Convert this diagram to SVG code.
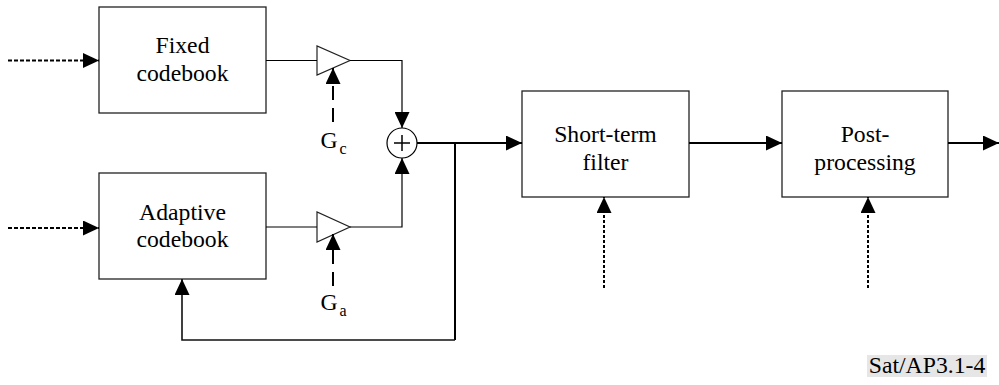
<svg xmlns="http://www.w3.org/2000/svg" width="999" height="385" viewBox="0 0 999 385">
<style>
.box{fill:#fff;stroke:#222;stroke-width:1.3}
.t{font-family:"Liberation Serif","Times New Roman",serif;font-size:23.7px;fill:#000;text-anchor:middle}
.sub{font-size:16px}
.thin{fill:none;stroke:#000;stroke-width:1.2}
.thick{fill:none;stroke:#000;stroke-width:2}
.dash{fill:none;stroke:#000;stroke-width:2;stroke-dasharray:4 2}
.dot{fill:none;stroke:#000;stroke-width:2;stroke-dasharray:3 2}
.gain{fill:none;stroke:#000;stroke-width:2;stroke-dasharray:14 8}
</style>
<defs>
<marker id="ah" markerUnits="userSpaceOnUse" markerWidth="17" markerHeight="15" refX="16" refY="7.5" orient="auto">
<path d="M0,0 L16,7.5 L0,15 Z" fill="#000"/>
</marker>
</defs>
<g id="fixed"><rect class="box" x="99" y="7" width="167" height="106"/>
<text class="t" x="182.5" y="53">Fixed</text><text class="t" x="182.5" y="81">codebook</text></g>
<g id="adaptive"><rect class="box" x="99" y="173" width="167" height="106"/>
<text class="t" x="182.5" y="220">Adaptive</text><text class="t" x="182.5" y="247">codebook</text></g>
<g id="ampc"><polygon points="317,46 317,75 350,60.5" fill="#fff" stroke="#222" stroke-width="1.2"/></g>
<g id="ampa"><polygon points="317,212 317,242 350,227" fill="#fff" stroke="#222" stroke-width="1.2"/></g>
<g id="gc"><text class="t" x="329" y="148">G</text><text class="t sub" x="343" y="154">c</text></g>
<g id="ga"><text class="t" x="329" y="310">G</text><text class="t sub" x="343" y="316">a</text></g>
<g id="sum"><circle cx="402" cy="143" r="15" fill="#fff" stroke="#000" stroke-width="1.2"/>
<path d="M394,143 H410 M402,135 V151" stroke="#000" stroke-width="1.5"/></g>
<g id="stf"><rect class="box" x="522" y="91" width="167" height="106"/>
<text class="t" x="605.5" y="142">Short-term</text><text class="t" x="605.5" y="170">filter</text></g>
<g id="post"><rect class="box" x="782" y="91" width="166" height="106"/>
<text class="t" x="865" y="142">Post-</text><text class="t" x="865" y="170">processing</text></g>
<g id="ref"><rect x="867" y="355" width="120" height="22" fill="#e6e6e6"/>
<text class="t" x="927" y="373">Sat/AP3.1-4</text></g>
<g id="connectors">
<path class="dash" d="M8,60.5 H99" marker-end="url(#ah)"/>
<path class="dash" d="M8,228 H99" marker-end="url(#ah)"/>
<path class="thin" d="M266,60.5 H317"/>
<path class="thin" d="M266,227 H317"/>
<path class="gain" d="M333,122 V68" marker-end="url(#ah)"/>
<path class="gain" d="M333,286 V234" marker-end="url(#ah)"/>
<path class="thin" d="M350,60.5 H402 V128" marker-end="url(#ah)"/>
<path class="thin" d="M350,227 H402 V158" marker-end="url(#ah)"/>
<path class="thick" d="M417,143 H522" marker-end="url(#ah)"/>
<path class="thick" d="M455,143 V340"/>
<path d="M455,340 H182 V279" fill="none" stroke="#111" stroke-width="1.6" marker-end="url(#ah)"/>
<path class="thick" d="M689,143 H782" marker-end="url(#ah)"/>
<path class="thick" d="M948,143 H999" marker-end="url(#ah)"/>
<path class="dot" d="M604,288 V197" marker-end="url(#ah)"/>
<path class="dot" d="M868,288 V197" marker-end="url(#ah)"/>
</g>
</svg>
